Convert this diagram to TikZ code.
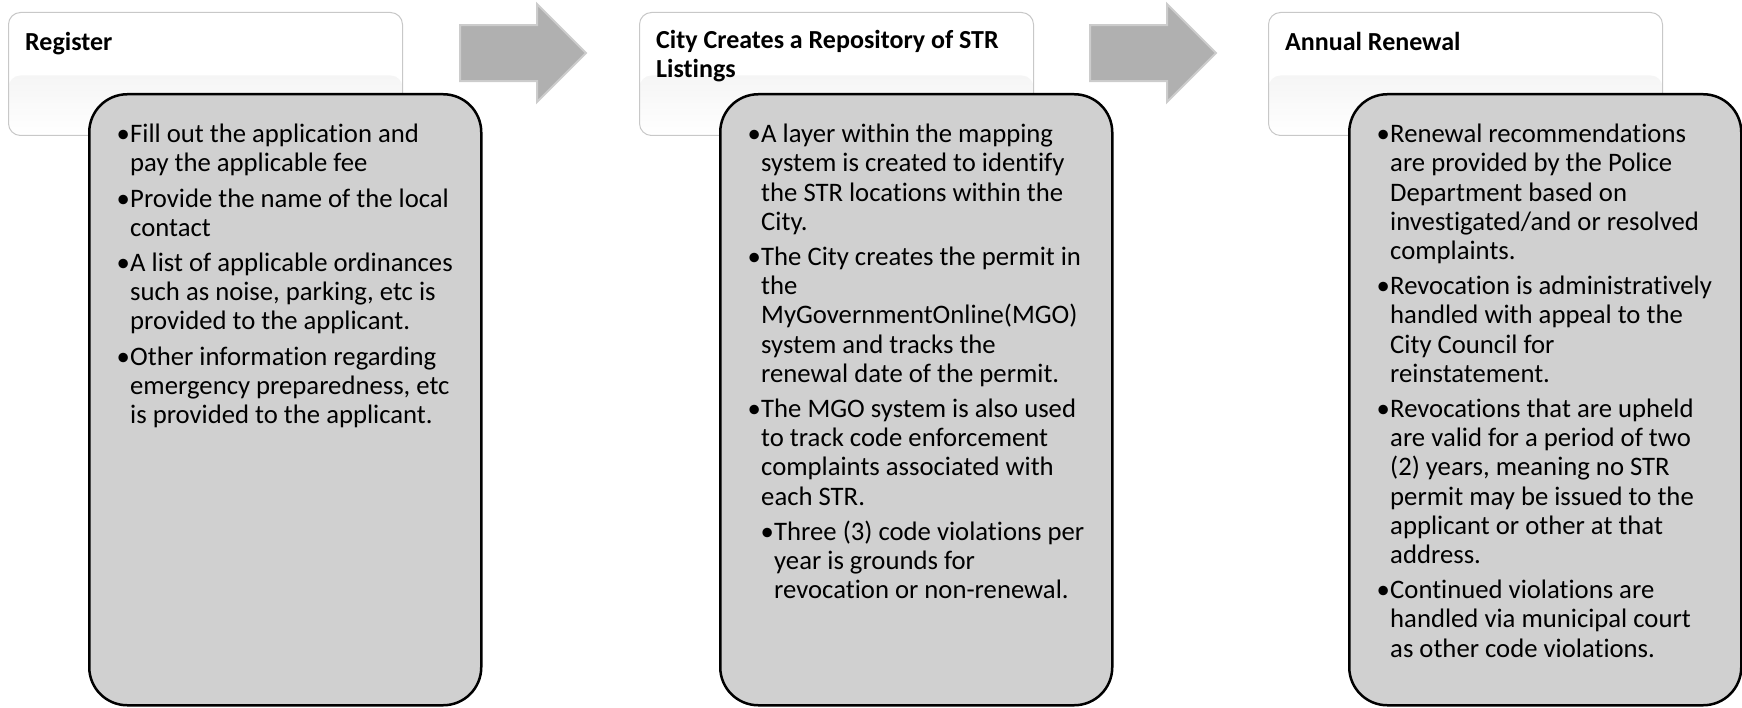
\documentclass[tikz,border=0pt]{standalone}
\usepackage{fontspec}
\setmainfont[Ligatures=NoCommon]{Carlito}
\usetikzlibrary{positioning, shapes.arrows}

\definecolor{boxgray}{RGB}{208,208,208}
\definecolor{arrowgray}{RGB}{176,176,176}
\definecolor{arrowedge}{RGB}{204,204,204}
\definecolor{headline}{RGB}{200,200,200}

\newcommand{\itembul}{\llap{\makebox[14pt]{•}}}

\tikzset{%
head box/.style={
    rectangle, draw=headline, line width=1pt,
    rounded corners=12pt,
    minimum width=394pt, minimum height=123pt,
    fill=white,
    path picture={\fill[top color=black!8, bottom color=white]
      ([yshift=-63pt]path picture bounding box.north west) rectangle
      (path picture bounding box.south east);}
},
head text/.style={
    font=\fontsize{26}{29}\selectfont\bfseries,
    align=left, inner sep=0pt, anchor=north west,
    execute at begin node={\rule{0pt}{20pt}}
},
body box/.style={
    rectangle, draw=black, line width=2.5pt,
    rounded corners=38pt,
    fill=boxgray,
    minimum width=392pt, minimum height=611pt,
    inner sep=0pt
},
body text/.style={
    font=\fontsize{26.7}{29.2}\selectfont,
    align=left, inner sep=0pt, anchor=north west,
    execute at begin node={\rule{0pt}{20pt}}
},
flow arrow/.style={
    single arrow, draw=arrowedge, line width=2pt, fill=arrowgray,
    minimum height=126pt, text height=54pt, text depth=0pt,
    minimum width=0pt, single arrow head extend=21pt,
    inner sep=0pt, anchor=west
}
}

\begin{document}
\begin{tikzpicture}[x=1pt, y=-1pt]
\useasboundingbox (0,0) rectangle (1742,708);

% first column
\node[head box, anchor=north west] (hd-1) at (8,12) {};
\node[head text] (hd-1-txt) at ([shift={(17pt,-18pt)}]hd-1.north west) {Register};
\node[body box, below right=81pt and 80pt of hd-1.north west] (body-1) {};
\node[body text] (body-1-txt) at ([shift={(42pt,-31pt)}]body-1.north west)
{\itembul Fill out the application and\\
pay the applicable fee\\[6pt]
\itembul Provide the name of the local\\
contact\\[6pt]
\itembul A list of applicable ordinances\\
such as noise, parking, etc is\\
provided to the applicant.\\[6pt]
\itembul Other information regarding\\
emergency preparedness, etc\\
is provided to the applicant.};

\node[flow arrow] (arr-1) at (459,53) {};

% second column
\node[head box, anchor=north west] (hd-2) at (639,12) {};
\node[head text] (hd-2-txt) at ([shift={(17pt,-18pt)}]hd-2.north west) {City Creates a Repository of STR\\Listings};
\node[body box, below right=81pt and 80pt of hd-2.north west] (body-2) {};
\node[body text] (body-2-txt) at ([shift={(42pt,-31pt)}]body-2.north west)
{\itembul A layer within the mapping\\
system is created to identify\\
the STR locations within the\\
City.\\[6pt]
\itembul The City creates the permit in\\
the\\
MyGovernmentOnline(MGO)\\
system and tracks the\\
renewal date of the permit.\\[6pt]
\itembul The MGO system is also used\\
to track code enforcement\\
complaints associated with\\
each STR.\\[6pt]
\hspace*{13pt}\itembul Three (3) code violations per\\
\hspace*{13pt}year is grounds for\\
\hspace*{13pt}revocation or non-renewal.};

\node[flow arrow] (arr-2) at (1089,53) {};

% last column
\node[head box, anchor=north west] (hd-3) at (1268,12) {};
\node[head text] (hd-3-txt) at ([shift={(17pt,-18pt)}]hd-3.north west) {Annual Renewal};
\node[body box, below right=81pt and 80pt of hd-3.north west] (body-3) {};
\node[body text] (body-3-txt) at ([shift={(42pt,-31pt)}]body-3.north west)
{\itembul Renewal recommendations\\
are provided by the Police\\
Department based on\\
investigated/and or resolved\\
complaints.\\[6pt]
\itembul Revocation is administratively\\
handled with appeal to the\\
City Council for\\
reinstatement.\\[6pt]
\itembul Revocations that are upheld\\
are valid for a period of two\\
(2) years, meaning no STR\\
permit may be issued to the\\
applicant or other at that\\
address.\\[6pt]
\itembul Continued violations are\\
handled via municipal court\\
as other code violations.};
\end{tikzpicture}
\end{document}
